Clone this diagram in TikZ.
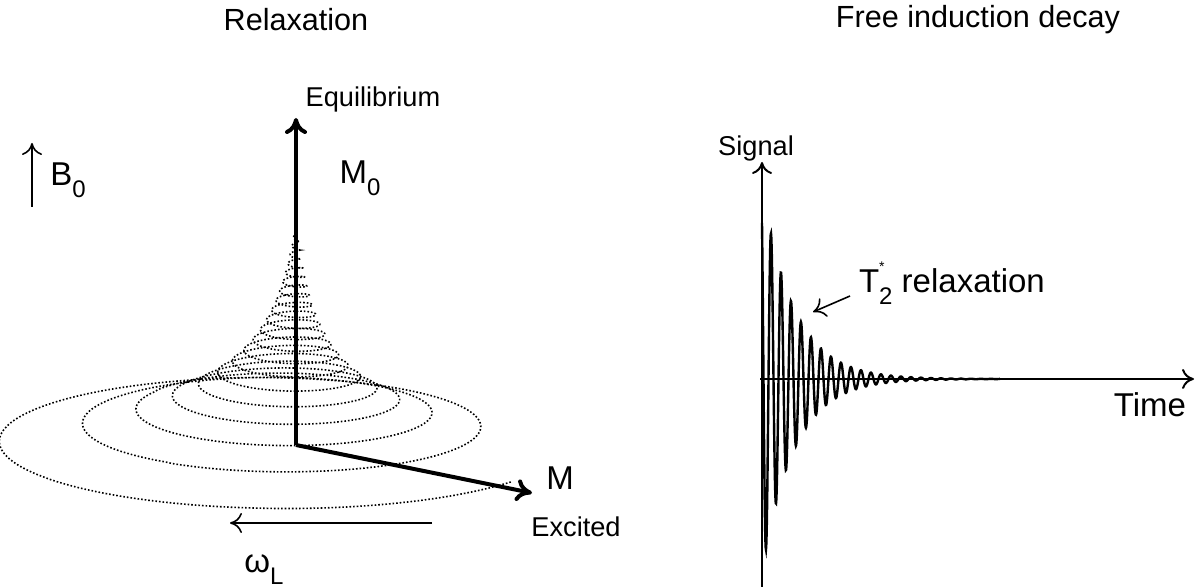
\documentclass[tikz,border=0pt]{standalone}
\usepackage{fontspec}
\setmainfont{Liberation Sans}
\usetikzlibrary{arrows.meta}
\newcommand{\sub}[1]{\raisebox{-0.7ex}{\fontsize{12}{13}\selectfont #1}}
\begin{document}
\begin{tikzpicture}[x=0.5pt,y=-0.5pt,
  title/.style={font=\fontsize{15.3}{17}\selectfont},
  lbl/.style={font=\fontsize{13.6}{15}\selectfont},
  big/.style={font=\fontsize{16.5}{18}\selectfont},
  vec/.style={line width=2pt,-{To[length=8pt,width=11pt,line width=2pt]}},
  thin/.style={line width=0.8pt,-{To[length=6pt,width=10pt]}}]
\useasboundingbox (0,0) rectangle (1200,587);
\node[title] (t1) at (296,20) {Relaxation};
\node[title] (t2) at (978,20) {Free induction decay};
% spiral
\draw[densely dotted, line width=0.8pt] plot[domain=0:20, samples=3000, variable=\n]
  ({296+(1-0.9*(\n/20)^2)/(1+0.19*\n)^2*(-45+300*cos(30+360*\n))},
   {447-215*((\n/20)^0.8) + 70*(1-0.9*(\n/20)^2)/(1+0.19*\n)^2*sin(30+360*\n)});
\coordinate (o) at (296,445);
\coordinate (m0) at (296,118);
\coordinate (m) at (532,493);
\draw[vec] (o) -- (m0);
\draw[vec] (o) -- (m);
\node[lbl] (eq) at (373,99) {Equilibrium};
\node[big] (M0l) at (360,178) {M\sub{0}};
\node[big] (Ml) at (560,478) {M};
\node[lbl] (ex) at (576,527) {Excited};
\coordinate (b1) at (32,207); \coordinate (b2) at (32,143);
\draw[thin] (b1) -- (b2);
\node[big] (B0) at (68,180) {B\sub{0}};
\coordinate (w1) at (432,523); \coordinate (w2) at (230,523);
\draw[thin] (w1) -- (w2);
\node[big] (wl) at (264,570) {ω\sub{L}};
% FID
\coordinate (ya) at (762,587); \coordinate (yb) at (762,162);
\coordinate (xa) at (760,379); \coordinate (xb) at (1194,379);
\draw[thin, line width=1pt] (ya) -- (yb);
\draw[thin, line width=1pt] (xa) -- (xb);
\draw[line width=1.2pt] plot[domain=762:1000, samples=900, variable=\x]
  ({\x}, {379-193*exp(-(\x-762)/32)*sin(36*(\x-762)+126)});
\node[lbl] (sig) at (756,148) {Signal};
\node[big] (time) at (1150,405) {Time};
\node[big, anchor=west] (t2s) at (852,283) {T\rlap{\raisebox{1.2ex}{\scriptsize *}}\sub{2} relaxation};
\coordinate (ta) at (813,312);
\coordinate (tb) at (850,296);
\draw[thin] (tb) -- (ta);
\end{tikzpicture}
\end{document}
